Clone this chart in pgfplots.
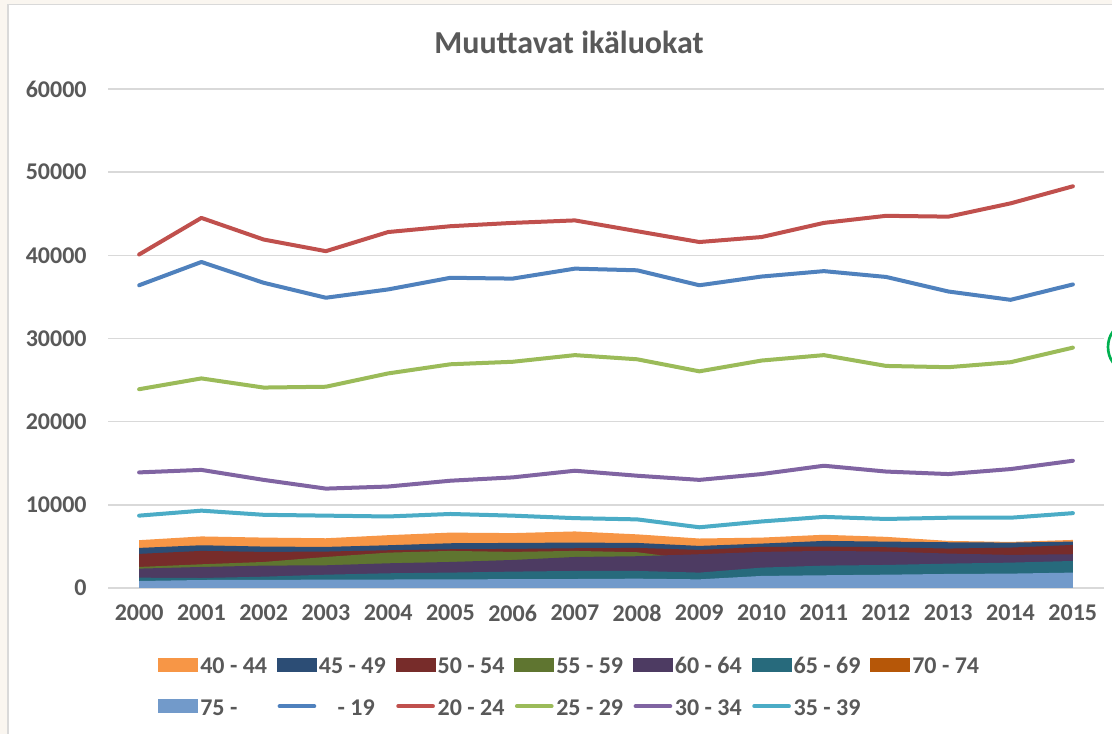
\documentclass[border=0pt]{standalone}
\usepackage{fontspec}
\setmainfont{Carlito}
\usepackage{pgfplots}
\pgfplotsset{compat=1.18}
\usepackage{pgfplotstable}

\definecolor{txt}{HTML}{595959}
\definecolor{gridc}{HTML}{D9D9D9}
\definecolor{bg}{HTML}{FAF6F0}
\definecolor{cA}{HTML}{F79646}
\definecolor{cB}{HTML}{2C4D75}
\definecolor{cC}{HTML}{772C2A}
\definecolor{cD}{HTML}{5F7530}
\definecolor{cE}{HTML}{4D3B62}
\definecolor{cF}{HTML}{276A7C}
\definecolor{cG}{HTML}{B65708}
\definecolor{cH}{HTML}{729ACA}
\definecolor{l1}{HTML}{4F81BD}
\definecolor{l2}{HTML}{C0504D}
\definecolor{l3}{HTML}{9BBB59}
\definecolor{l4}{HTML}{8064A2}
\definecolor{l5}{HTML}{4BACC6}

% year, 40-44, 45-49, 50-54, 55-59, 60-64, 65-69, 70-74, 75-
\pgfplotstableread{
year a4044 a4549 a5054 a5559 a6064 a6569 a7074 a75
2000 5750 4820 4100 2530 2330 1240 700 840
2001 6200 5140 4460 2850 2530 1200 750 960
2002 6060 4980 4340 3130 2690 1360 780 980
2003 5980 4940 4380 3730 2730 1600 800 1000
2004 6350 5140 4540 4250 2970 1770 820 1020
2005 6660 5380 4660 4460 3130 1850 850 1040
2006 6600 5420 4700 4340 3370 1970 880 1060
2007 6800 5460 4780 4460 3730 2050 900 1080
2008 6450 5420 4820 4300 3820 2050 920 1120
2009 5950 5060 4580 3350 4060 1850 900 1040
2010 6060 5340 4940 3400 4340 2450 1100 1450
2011 6400 5660 4980 3500 4460 2690 1200 1530
2012 6150 5580 4900 3550 4380 2770 1250 1600
2013 5660 5500 4740 3500 4140 2930 1300 1690
2014 5540 5460 4860 3450 3980 3050 1350 1730
2015 5780 5580 5180 3500 4060 3250 1400 1850
}\areadata

% year, -19, 20-24, 25-29, 30-34, 35-39
\pgfplotstableread{
year b19 b2024 b2529 b3034 b3539
2000 36400 40100 23900 13900 8700
2001 39200 44500 25200 14200 9300
2002 36700 41900 24100 13000 8800
2003 34900 40500 24200 11950 8700
2004 35900 42800 25800 12200 8600
2005 37300 43500 26900 12900 8900
2006 37200 43900 27200 13300 8700
2007 38400 44200 28000 14100 8400
2008 38200 42900 27500 13500 8250
2009 36400 41600 26050 13000 7300
2010 37450 42200 27350 13700 8000
2011 38100 43900 28000 14700 8550
2012 37400 44750 26700 14000 8300
2013 35650 44650 26550 13700 8450
2014 34650 46250 27150 14300 8450
2015 36500 48300 28900 15300 9000
}\linedata

\pgfplotsset{
  areastyle/.style={draw=none, fill=#1,
    legend image code/.code={\fill[fill=#1, draw=none] (0pt,-5.25pt) rectangle (30pt,5.25pt);}},
  linestyle/.style={draw=#1, no marks, line width=3pt, line join=round, line cap=round,
    legend image code/.code={\draw[draw=#1, line width=3pt, line cap=round] (2pt,0pt) -- (28pt,0pt);}},
}

\begin{document}
\begin{tikzpicture}
\fill[bg] (0,0) rectangle (834pt,550.5pt);
\filldraw[fill=white, draw=gridc, line width=1.2pt] (6pt,547pt) rectangle (845pt,-10pt);
\draw[color={rgb,255:red,0;green,176;blue,80}, line width=2pt] (843pt,290.25pt) ellipse (12pt and 16pt);
\node[font=\bfseries\fontsize{24}{28}\selectfont, text=txt] at (426.75pt,519pt) {Muuttavat ikäluokat};
\begin{axis}[
  at={(81pt,109.5pt)}, anchor=south west,
  scale only axis, width=747pt, height=374.25pt,
  xmin=1999.5, xmax=2015.5, ymin=0, ymax=60000,
  xtick={2000,...,2015}, ytick={0,10000,...,60000},
  scaled y ticks=false,
  /pgf/number format/assume math mode=true,
  xticklabel={\pgfmathprintnumber[1000 sep={},fixed]{\tick}},
  yticklabel={\pgfmathprintnumber[1000 sep={},fixed]{\tick}},
  ticklabel style={font=\bfseries\fontsize{18}{21}\selectfont, text=txt},
  yticklabel style={xshift=-12.5pt},
  xticklabel style={yshift=-9pt},
  major tick length=0pt,
  axis line style={draw=none},
  xmajorgrids=false, ymajorgrids=true,
  major grid style={draw=gridc, line width=1.2pt},
  legend columns=7,
  legend cell align=left,
  legend style={draw=none, fill=none, inner sep=0pt,
    at={([xshift=37.5pt,yshift=-49pt]axis description cs:0,0)}, anchor=north west,
    font=\bfseries\fontsize{18}{21.6}\selectfont, text=txt,
    nodes={inner xsep=1.5pt, inner ysep=0pt},
    row sep=14.5pt, column sep=0pt},
]
\addplot[areastyle=cA] table[x=year,y=a4044]{\areadata} \closedcycle;
\addlegendentry{\makebox[56pt][l]{40 - 44\strut}}
\addplot[areastyle=cB] table[x=year,y=a4549]{\areadata} \closedcycle;
\addlegendentry{\makebox[56pt][l]{45 - 49\strut}}
\addplot[areastyle=cC] table[x=year,y=a5054]{\areadata} \closedcycle;
\addlegendentry{\makebox[56pt][l]{50 - 54\strut}}
\addplot[areastyle=cD] table[x=year,y=a5559]{\areadata} \closedcycle;
\addlegendentry{\makebox[56pt][l]{55 - 59\strut}}
\addplot[areastyle=cE] table[x=year,y=a6064]{\areadata} \closedcycle;
\addlegendentry{\makebox[56pt][l]{60 - 64\strut}}
\addplot[areastyle=cF] table[x=year,y=a6569]{\areadata} \closedcycle;
\addlegendentry{\makebox[56pt][l]{65 - 69\strut}}
\addplot[areastyle=cG] table[x=year,y=a7074]{\areadata} \closedcycle;
\addlegendentry{\makebox[56pt][l]{70 - 74\strut}}
\addplot[areastyle=cH] table[x=year,y=a75]{\areadata} \closedcycle;
\addlegendentry{\makebox[56pt][l]{75 -\strut}}
\addplot[linestyle=l1] table[x=year,y=b19]{\linedata};
\addlegendentry{\makebox[56pt][l]{\hspace{14pt}- 19\strut}}
\addplot[linestyle=l2] table[x=year,y=b2024]{\linedata};
\addlegendentry{\makebox[56pt][l]{20 - 24\strut}}
\addplot[linestyle=l3] table[x=year,y=b2529]{\linedata};
\addlegendentry{\makebox[56pt][l]{25 - 29\strut}}
\addplot[linestyle=l4] table[x=year,y=b3034]{\linedata};
\addlegendentry{\makebox[56pt][l]{30 - 34\strut}}
\addplot[linestyle=l5] table[x=year,y=b3539]{\linedata};
\addlegendentry{\makebox[56pt][l]{35 - 39\strut}}
\end{axis}
\pgfresetboundingbox
\useasboundingbox (0,0) rectangle (834pt,550.5pt);
\end{tikzpicture}
\end{document}
